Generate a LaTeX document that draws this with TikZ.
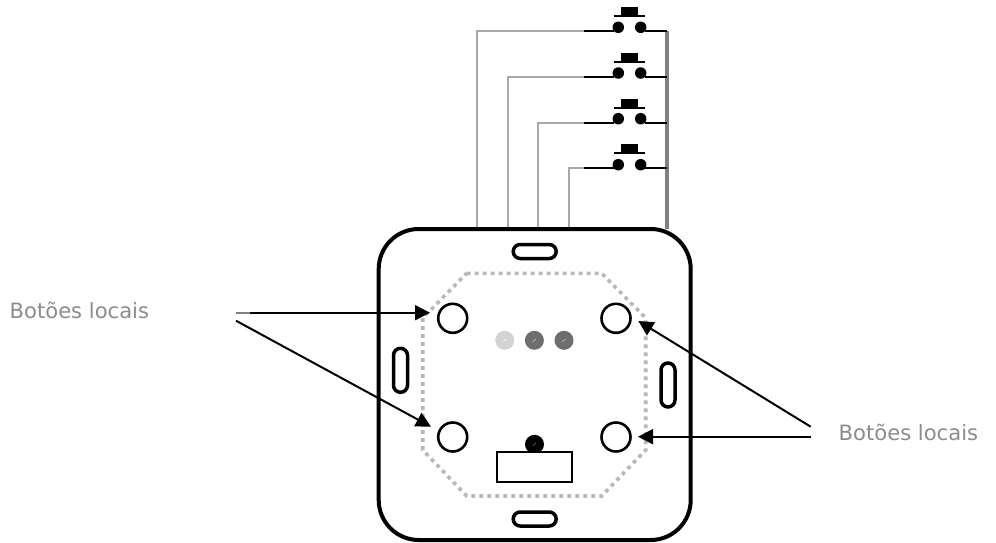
\documentclass[tikz,border=0pt]{standalone}
\usepackage{fontspec}
\setmainfont{DejaVu Sans}
\usetikzlibrary{arrows.meta}
\definecolor{wiregrey}{HTML}{A8A8A8}
\definecolor{bargrey}{HTML}{808080}
\definecolor{dotgrey}{HTML}{B8B8B8}
\definecolor{labelgrey}{HTML}{8C8C8C}
\definecolor{ledlight}{HTML}{D3D3D3}
\definecolor{leddark}{HTML}{6E6E6E}
\tikzset{
  wire/.style={draw=wiregrey,line width=2pt},
  blackwire/.style={draw=black,line width=2pt},
  contact/.style={circle,fill=black,inner sep=0pt,minimum size=11.5pt},
  capbox/.style={rectangle,fill=black,inner sep=0pt,minimum width=17pt,minimum height=8.4pt},
  slothoriz/.style={rectangle,draw=black,line width=3.5pt,rounded corners=7pt,inner sep=0pt,minimum width=43pt,minimum height=14pt},
  slotvert/.style={rectangle,draw=black,line width=3.5pt,rounded corners=7pt,inner sep=0pt,minimum width=14pt,minimum height=44pt},
  localbtn/.style={circle,draw=black,line width=2.6pt,fill=white,inner sep=0pt,minimum size=29pt},
  led/.style={circle,inner sep=0pt,minimum size=19pt},
  callout/.style={draw=black,line width=2pt,-{Triangle[length=15pt,width=15pt]}},
  lbl/.style={anchor=base west,inner sep=0pt,text=labelgrey,font=\fontsize{21.1pt}{25pt}\selectfont},
}
\begin{document}
\begin{tikzpicture}[x=1pt,y=-1pt]
\useasboundingbox (0,0) rectangle (996,542);
% common wire
\coordinate (busT) at (666.7,31);
\coordinate (busB) at (666.7,229);
\draw[draw=bargrey,line width=3.6pt] (busT) -- (busB);
% switches
\foreach \i/\wx/\wy/\dy/\by/\cy in {1/476.7/31/27.3/15.7/11.5,2/507.7/76.7/73/61.7/57.5,3/538/122.7/118.7/107.7/103.5,4/569/168/164.7/152.7/148.6}{
  \coordinate (foot\i) at (\wx,229);
  \coordinate (elbow\i) at (\wx,\wy);
  \coordinate (join\i) at (584,\wy);
  \coordinate (left\i) at (614,\wy);
  \coordinate (right\i) at (645,\wy);
  \coordinate (bus\i) at (666.7,\wy);
  \coordinate (barL\i) at (614,\by);
  \coordinate (barR\i) at (645,\by);
  \draw[wire] (foot\i) -- (elbow\i) -- (join\i);
  \draw[blackwire] (join\i) -- (left\i);
  \draw[blackwire] (right\i) -- (bus\i);
  \node[contact] (ca\i) at (618.3,\dy) {};
  \node[contact] (cb\i) at (640.7,\dy) {};
  \draw[blackwire] (barL\i) -- (barR\i);
  \node[capbox] (cap\i) at (629.2,\cy) {};
}
% housing
\node[rectangle,draw=black,line width=4pt,rounded corners=40pt,inner sep=0pt,minimum width=312pt,minimum height=311pt] (body) at (534.7,384.5) {};
\node[slothoriz] (slotT) at (534.7,251.5) {};
\node[slothoriz] (slotB) at (534.7,519) {};
\node[slotvert] (slotL) at (400.5,370.3) {};
\node[slotvert] (slotR) at (668,385) {};
% dotted outline
\draw[draw=dotgrey,line width=3.6pt,dash pattern=on 3.8pt off 4.2pt]
  (466.7,273.3) -- (601.7,273.3) -- (645.7,318) -- (645.7,450) -- (601.7,496) -- (466.7,496) -- (422.7,450) -- (422.7,318) -- cycle;
% buttons
\node[localbtn] (btnTL) at (452.7,318.3) {};
\node[localbtn] (btnTR) at (616,318.3) {};
\node[localbtn] (btnBL) at (452.7,437) {};
\node[localbtn] (btnBR) at (616,437) {};
% LEDs
\node[led,fill=ledlight] (led1) at (504.7,340.3) {};
\node[led,fill=leddark] (led2) at (534.4,340.3) {};
\node[led,fill=leddark] (led3) at (564,340.3) {};
\node[led,fill=black] (sensor) at (534.5,444.3) {};
\foreach \n/\c in {led1/white,led2/ledlight,led3/ledlight,sensor/leddark}{
  \draw[draw=\c,line width=.5pt] ([xshift=-1.6pt,yshift=-1.4pt]\n.center) -- ([xshift=1.6pt,yshift=1.4pt]\n.center);
}
\node[rectangle,draw=black,line width=1.8pt,fill=white,inner sep=0pt,minimum width=74.5pt,minimum height=30pt] (window) at (534.4,466.7) {};
% callouts
\node[lbl] (lblL) at (9.5,318.3) {Botões locais};
\node[lbl] (lblR) at (838.5,440) {Botões locais};
\coordinate (srcL1) at (236,312.7);
\coordinate (greyL1) at (250,312.7);
\coordinate (srcL2) at (236,320.7);
\coordinate (tipL1) at (430,312.7);
\coordinate (tipL2) at (431,426.7);
\coordinate (srcR1) at (810.7,426.7);
\coordinate (srcR2) at (810.7,436.7);
\coordinate (tipR1) at (638.3,321);
\coordinate (tipR2) at (638,436.7);
\draw[callout] (greyL1) -- (tipL1);
\draw[draw=bargrey,line width=2pt] (srcL1) -- (greyL1);
\draw[callout] (srcL2) -- (tipL2);
\draw[callout] (srcR1) -- (tipR1);
\draw[callout] (srcR2) -- (tipR2);
\end{tikzpicture}
\end{document}
